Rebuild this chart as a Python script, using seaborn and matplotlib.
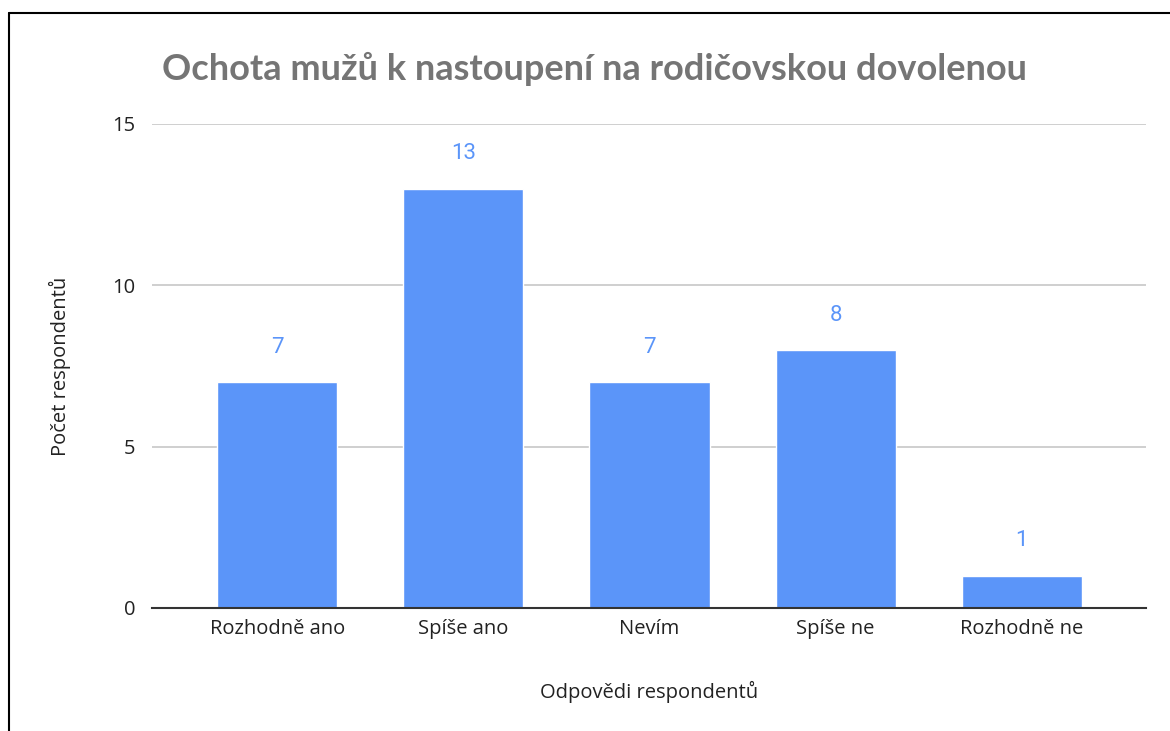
import matplotlib
matplotlib.use("Agg")
import matplotlib.pyplot as plt
import seaborn as sns
import pandas as pd
from matplotlib.lines import Line2D

odpovedi = ["Rozhodně ano", "Spíše ano", "Nevím", "Spíše ne", "Rozhodně ne"]
pocty = [7, 13, 7, 8, 1]

data = pd.DataFrame({"odpoved": odpovedi, "pocet": pocty})

sns.set_theme(style="white")
plt.rcParams['font.family'] = ['Open Sans', 'DejaVu Sans']

fig = plt.figure(figsize=(11.7, 7.31), dpi=100)
ax = fig.add_axes([0.130, 0.1683, 0.8495, 0.6621])

modra = "#5b95f9"
sns.barplot(data=data, x="odpoved", y="pocet", color=modra, width=0.645,
            saturation=1, ax=ax, zorder=3)

# popisky hodnot nad sloupci
for i, v in enumerate(pocty):
    ax.annotate(str(v), (i, v), xytext=(0, 25), textcoords="offset points",
                ha="center", va="center", color=modra, fontsize=16,
                family=["Roboto", "DejaVu Sans"])

ax.set_ylim(0, 15)
ax.set_xlim(-0.672, 4.667)
ax.set_yticks([0, 5, 10, 15])
ax.yaxis.grid(True, color="#cccccc", linewidth=1.3, zorder=0)
ax.set_axisbelow(True)
for s in ["top", "right", "left"]:
    ax.spines[s].set_visible(False)
ax.spines["bottom"].set_color("#333333")
ax.spines["bottom"].set_linewidth(1.5)
ax.spines["bottom"].set_zorder(4)
ax.tick_params(axis="both", length=0, labelsize=14.5, labelcolor="#222222")
ax.tick_params(axis="x", pad=8)
ax.tick_params(axis="y", pad=12)

ax.set_xlabel("Odpovědi respondentů", fontsize=14.5, color="#222222", labelpad=30)
ax.set_ylabel("Počet respondentů", fontsize=14.5, color="#222222", labelpad=30)

fig.text(0.508, 0.905, "Ochota mužů k nastoupení na rodičovskou dovolenou",
         ha="center", va="center", fontsize=26, fontweight="bold", color="#757575",
         family=["Lato", "DejaVu Sans"])

# rámeček (horní a levá hrana)
fig.add_artist(Line2D([9 / 1170, 1], [1 - 13 / 731, 1 - 13 / 731], color="black", linewidth=1.5,
                      transform=fig.transFigure))
fig.add_artist(Line2D([9 / 1170, 9 / 1170], [0, 1 - 13 / 731], color="black", linewidth=1.5,
                      transform=fig.transFigure))

fig.savefig("out.png", dpi=100, facecolor="white")
